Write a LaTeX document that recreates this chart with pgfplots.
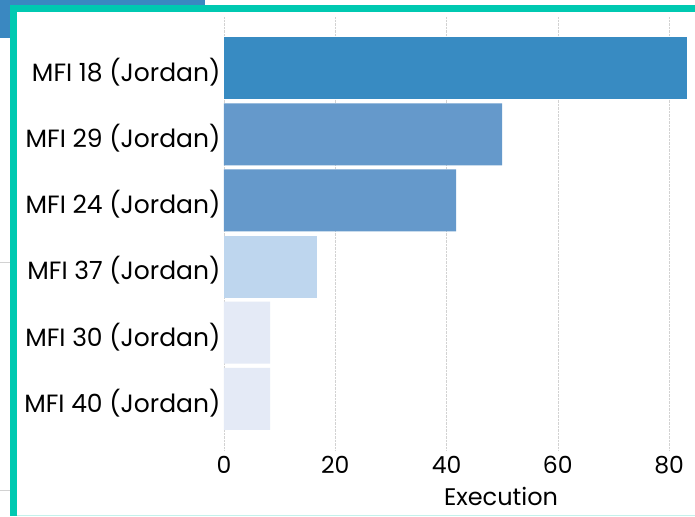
\documentclass[border=0pt]{standalone}
\usepackage{fontspec}
\setmainfont{Poppins}
\usepackage{pgfplots}
\pgfplotsset{compat=1.18}
\usetikzlibrary{calc}
\definecolor{frameteal}{HTML}{00C9B1}
\definecolor{topblue}{HTML}{3A88C1}
\definecolor{lightteal}{HTML}{C4F1EB}
\definecolor{bardark}{HTML}{388BC2}
\definecolor{barmid}{HTML}{6599CB}
\definecolor{barlight}{HTML}{BED6EE}
\definecolor{barpale}{HTML}{E4EAF6}
\pgfdeclarelayer{background}
\pgfsetlayers{background,main}
\begin{document}
\begin{tikzpicture}
\begin{axis}[
  scale only axis, width=464pt, height=433pt,
  xbar, xmin=0, xmax=83.4,
  ymin=-0.773, ymax=5.773, y dir=reverse,
  ytick={0,1,2,3,4,5},
  yticklabels={MFI 18 (Jordan),MFI 29 (Jordan),MFI 24 (Jordan),MFI 37 (Jordan),MFI 30 (Jordan),MFI 40 (Jordan)},
  xtick={0,20,40,60,80},
  axis line style={draw=none},
  major tick length=0pt,
  xmajorgrids,
  major grid style={gray!35, densely dotted},
  xticklabel style={font=\fontsize{23.5}{26}\selectfont, yshift=-3pt},
  yticklabel style={font=\fontsize{25}{28}\selectfont, xshift=0pt, yshift=-4pt},
  /pgf/number format/assume math mode=true,
  xlabel={Execution},
  xlabel style={font=\fontsize{24}{26}\selectfont, yshift=-6pt, xshift=45pt},
  every axis plot/.append style={bar shift=0pt, bar width=62pt, draw=none},
]
\addplot[fill=bardark] coordinates {(83.3,0)};
\addplot[fill=barmid] coordinates {(50.0,1) (41.7,2)};
\addplot[fill=barlight] coordinates {(16.7,3)};
\addplot[fill=barpale] coordinates {(8.3,4) (8.3,5)};
\coordinate (O) at (axis cs:0,5.773);
\end{axis}
% page decorations around the chart, measured from the axis corner
\begin{scope}[shift={($(O)+(-224pt,-66pt)$)}, x=1pt, y=1pt]
\begin{pgfonlayer}{background}
\fill[topblue] (0,478) rectangle (205,516);
\fill[white] (17,0) rectangle (695,504);
\fill[frameteal] (10,0) rectangle (17,511);
\fill[frameteal] (10,504) rectangle (695,511);
\draw[gray!35] (0,254) -- (10,254);
\draw[gray!35] (0,26) -- (10,26);
\fill[lightteal] (17,0) rectangle (695,1.5);
\end{pgfonlayer}
\pgfresetboundingbox
\useasboundingbox (0,0) rectangle (695,516);
\end{scope}
\end{tikzpicture}
\end{document}
